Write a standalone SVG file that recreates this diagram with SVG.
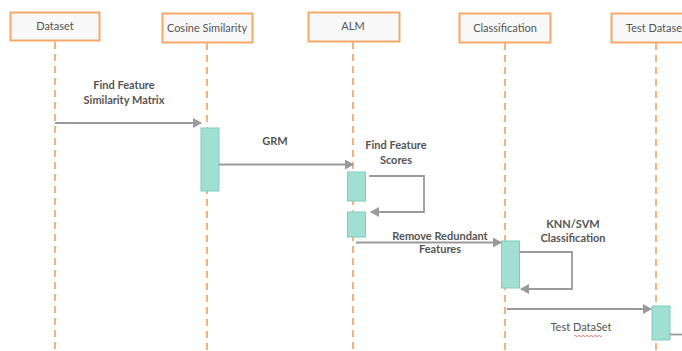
<svg xmlns="http://www.w3.org/2000/svg" width="682" height="351" viewBox="0 0 682 351">
  <style>
    .box { fill: #f8f8f8; stroke: #f5a869; stroke-width: 2; }
    .life { stroke: #f5b27c; stroke-width: 2; stroke-dasharray: 7 5; fill: none; }
    .act { fill: #a0dfd1; stroke: #7ccfb9; stroke-width: 1; }
    .msg { stroke: #9a9a9a; stroke-width: 1.8; fill: none; }
    .head { fill: #9a9a9a; }
    .title { font-family: Lato, "Liberation Sans", sans-serif; font-size: 11px; fill: #555; text-anchor: middle; }
    .lbl { font-family: Lato, "Liberation Sans", sans-serif; font-size: 11px; font-weight: bold; fill: #555; text-anchor: middle; }
    .plain { font-family: Lato, "Liberation Sans", sans-serif; font-size: 11px; fill: #555; text-anchor: middle; }
  </style>
  <defs>
    <marker id="arr" markerWidth="10" markerHeight="10" refX="8" refY="5" orient="auto" markerUnits="userSpaceOnUse">
      <path class="head" d="M0,0 L9,5 L0,10 Z"/>
    </marker>
  </defs>
  <rect width="682" height="351" fill="#ffffff"/>

  <!-- lifelines -->
  <g id="lifelines">
    <line class="life" x1="55" y1="42" x2="55" y2="351"/>
    <line class="life" x1="207" y1="43" x2="207" y2="351"/>
    <line class="life" x1="353" y1="42" x2="353" y2="351"/>
    <line class="life" x1="505" y1="43" x2="505" y2="351"/>
    <line class="life" x1="656" y1="43" x2="656" y2="351"/>
  </g>

  <g id="dataset">
    <rect class="box" x="10.5" y="12.5" width="89" height="28"/>
    <text class="title" x="55" y="30">Dataset</text>
  </g>
  <g id="cosine">
    <rect class="box" x="162.5" y="13.5" width="90" height="29"/>
    <text class="title" x="207" y="32">Cosine Similarity</text>
  </g>
  <g id="alm">
    <rect class="box" x="308.5" y="12.5" width="91" height="29"/>
    <text class="title" x="353" y="30">ALM</text>
  </g>
  <g id="classification">
    <rect class="box" x="459.5" y="13.5" width="91" height="29"/>
    <text class="title" x="505" y="32">Classification</text>
  </g>
  <g id="testdataset">
    <rect class="box" x="611.5" y="13.5" width="90" height="29"/>
    <text class="title" x="656" y="32">Test Dataset</text>
  </g>

  <!-- activation bars -->
  <g id="activations">
    <rect class="act" x="201" y="128" width="18" height="63"/>
    <rect class="act" x="347.5" y="172" width="18" height="29"/>
    <rect class="act" x="347.5" y="212" width="18" height="25"/>
    <rect class="act" x="501.5" y="241" width="18" height="47"/>
    <rect class="act" x="652" y="306" width="18" height="34"/>
  </g>

  <!-- messages -->
  <g id="connectors">
    <line class="msg" x1="55" y1="123" x2="201" y2="123" marker-end="url(#arr)"/>
    <line class="msg" x1="219" y1="164.5" x2="353" y2="164.5" marker-end="url(#arr)"/>
    <polyline class="msg" points="369,176 424,176 424,212 371,212" marker-end="url(#arr)"/>
    <line class="msg" x1="356" y1="242.5" x2="501" y2="242.5" marker-end="url(#arr)"/>
    <polyline class="msg" points="519.5,252 572,252 572,289 521,289" marker-end="url(#arr)"/>
    <line class="msg" x1="507" y1="309" x2="651" y2="309" marker-end="url(#arr)"/>
    <line class="msg" x1="670" y1="334.5" x2="682" y2="334.5"/>
  </g>

  <!-- message labels -->
  <g id="labels">
    <text class="lbl" x="124" y="89">Find Feature</text>
    <text class="lbl" x="124" y="104">Similarity Matrix</text>
    <text class="lbl" x="275" y="145">GRM</text>
    <text class="lbl" x="396" y="149">Find Feature</text>
    <text class="lbl" x="396" y="164">Scores</text>
    <text class="lbl" x="440" y="240">Remove Redundant</text>
    <text class="lbl" x="440" y="253">Features</text>
    <text class="lbl" x="573" y="228">KNN/SVM</text>
    <text class="lbl" x="573" y="242">Classification</text>
    <text class="plain" x="581" y="331">Test DataSet</text>
    <path d="M574,336 q1,-1.2 2,0 t2,0 t2,0 t2,0 t2,0 t2,0 t2,0 t2,0 t2,0 t2,0 t2,0 t2,0 t2,0 t2,0" fill="none" stroke="#e25b5b" stroke-width="0.8"/>
  </g>
</svg>
